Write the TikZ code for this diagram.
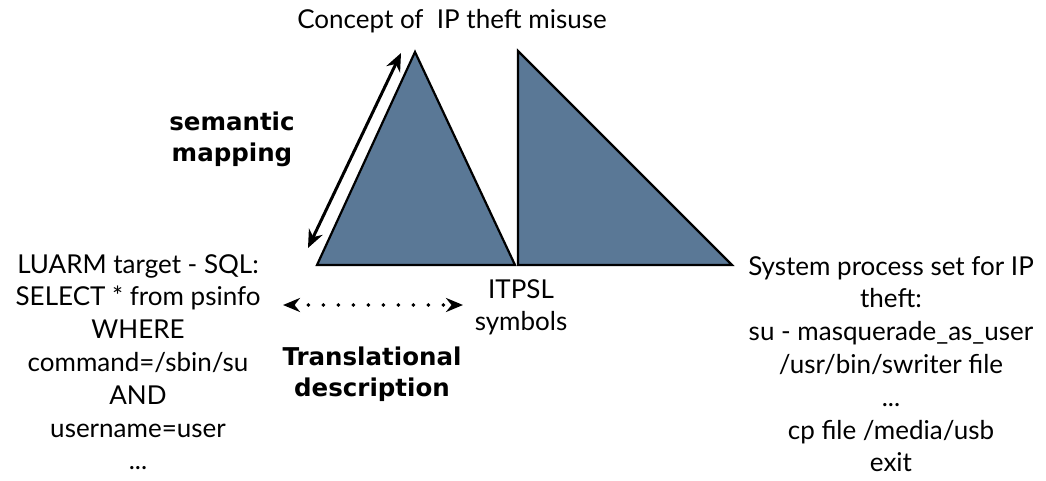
\documentclass[tikz,border=0pt]{standalone}
\usepackage{fontspec}
\setmainfont{Lato}
\newfontfamily\headfont{DejaVu Sans}
\usetikzlibrary{arrows.meta}
\definecolor{slate}{HTML}{5A7896}
\tikzset{
  tri/.style={fill=slate, draw=black, line width=2.2pt, line join=miter},
  lbl/.style={align=center, font=\fontsize{26}{32.8}\selectfont, inner sep=0pt},
  bold/.style={align=center, font=\headfont\bfseries\fontsize{24.5}{30.5}\selectfont, inner sep=0pt},
  maparrow/.style={{Stealth[length=18pt,width=15pt]}-{Stealth[length=18pt,width=15pt]}, line width=3pt},
  transarrow/.style={{Stealth[length=17pt,width=14pt]}-{Stealth[length=17pt,width=14pt]}, line width=3.8pt, dash pattern=on 0pt off 15pt, line cap=round}
}
\begin{document}
\begin{tikzpicture}[x=1pt,y=-1pt]
\useasboundingbox (0,0) rectangle (1046,480);
% the two triangles
\draw[tri] (317,265) -- (415,52) -- (515,265) -- cycle;
\draw[tri] (518,265) -- (518,51) -- (732,265) -- cycle;
% end points of the two arrows
\coordinate (mapA) at (308,248);
\coordinate (mapB) at (401,53);
\coordinate (trA) at (283,305);
\coordinate (trB) at (463,305);
\draw[maparrow] (mapA) -- (mapB);
\draw[transarrow] (trA) -- (trB);
% labels
\node[lbl, anchor=base] (concept) at (452,28) {Concept of \ IP theft misuse};
\node[bold, anchor=north] (sem) at (232,112) {semantic\\mapping};
\node[lbl, anchor=north] (sql) at (138,254) {LUARM target - SQL:\\SELECT * from psinfo\\WHERE\\command=/sbin/su\\AND\\username=user\\...};
\node[lbl, anchor=north] (itpsl) at (521,279) {ITPSL\\symbols};
\node[bold, anchor=north] (trans) at (372,347) {Translational\\description};
\node[lbl, anchor=north] (proc) at (891,256) {System process set for IP\\theft:\\su - masquerade\_as\_user\\/usr/bin/swriter file\\...\\cp file /media/usb\\exit};
\end{tikzpicture}
\end{document}
